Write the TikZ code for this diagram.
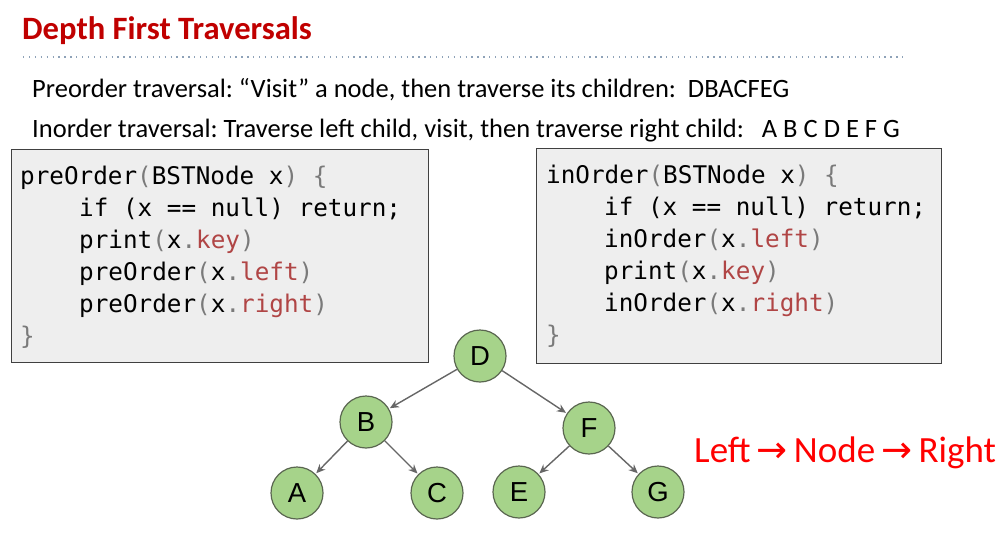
\documentclass[tikz,border=0pt]{standalone}
\usepackage{fontspec}
\setmainfont{Carlito}
\setmonofont{DejaVu Sans Mono}
\newfontfamily\symfont{DejaVu Sans}
\newfontfamily\nodefont{Liberation Sans}
\usetikzlibrary{arrows.meta}
\definecolor{titlered}{HTML}{C00000}
\definecolor{codegray}{HTML}{7A7A7A}
\definecolor{codered}{HTML}{B04545}
\definecolor{boxfill}{HTML}{EEEEEE}
\definecolor{nodegreen}{HTML}{A6D38A}
\definecolor{nodeedge}{HTML}{5A6650}
\definecolor{edgegray}{HTML}{666666}
\definecolor{dotblue}{HTML}{8EA2B8}
\newcommand{\codeg}[1]{\textcolor{codegray}{#1}}
\newcommand{\coder}[1]{\textcolor{codered}{#1}}
\frenchspacing
\tikzset{
  x=1pt,y=-1pt,
  codebox/.style={draw=black!75,fill=boxfill,line width=0.8pt},
  codeline/.style={anchor=base west,inner sep=0pt,font=\fontsize{24.3}{28}\selectfont\ttfamily},
  bodytext/.style={anchor=base west,inner sep=0pt,font=\fontsize{26.5}{30}\selectfont},
  treenode/.style={circle,draw=nodeedge,fill=nodegreen,line width=1.2pt,minimum size=52pt,inner sep=0pt,font=\fontsize{27.5}{30}\selectfont\nodefont},
  treeedge/.style={draw=edgegray,line width=1.4pt,-{Stealth[length=9pt,width=8pt]},shorten >=1pt},
}
\begin{document}
\begin{tikzpicture}
\useasboundingbox (0,0) rectangle (1000,535);
% title
\node[anchor=base west,inner sep=0pt,text=titlered,font=\fontsize{32.6}{36}\selectfont\bfseries] (title) at (22,40) {Depth First Traversals};
\draw[dotblue,line width=1.3pt,dash pattern=on 1.3pt off 4.6pt] (23,57) -- (905,57);
% body
\node[bodytext] (pre) at (32,97) {Preorder traversal: “Visit” a node, then traverse its children:\ \ DBACFEG};
\node[bodytext] (in) at (32,137) {Inorder traversal: Traverse left child, visit, then traverse right child:\ \ \ A B C D E F G};
% code boxes
\draw[codebox] (11,149) rectangle (428,362);
\draw[codebox] (536,148) rectangle (941,363);
\node[codeline] (l1) at (20,184) {preOrder\codeg{(}BSTNode x\codeg{)} \codeg{\{}};
\node[codeline] (l2) at (79,216) {if (x == null) return;};
\node[codeline] (l3) at (79,248) {print\codeg{(}x\codeg{.}\coder{key}\codeg{)}};
\node[codeline] (l4) at (79,280) {preOrder\codeg{(}x\codeg{.}\coder{left}\codeg{)}};
\node[codeline] (l5) at (79,312) {preOrder\codeg{(}x\codeg{.}\coder{right}\codeg{)}};
\node[codeline] (l6) at (20,344) {\codeg{\}}};
\node[codeline] (r1) at (546,183) {inOrder\codeg{(}BSTNode x\codeg{)} \codeg{\{}};
\node[codeline] (r2) at (604,215) {if (x == null) return;};
\node[codeline] (r3) at (604,247) {inOrder\codeg{(}x\codeg{.}\coder{left}\codeg{)}};
\node[codeline] (r4) at (604,279) {print\codeg{(}x\codeg{.}\coder{key}\codeg{)}};
\node[codeline] (r5) at (604,311) {inOrder\codeg{(}x\codeg{.}\coder{right}\codeg{)}};
\node[codeline] (r6) at (546,343) {\codeg{\}}};
% tree
\node[treenode] (D) at (480,356) {D};
\node[treenode] (B) at (366,422) {B};
\node[treenode] (F) at (589,428) {F};
\node[treenode] (A) at (297,493) {A};
\node[treenode] (C) at (437,493) {C};
\node[treenode] (E) at (519,492) {E};
\node[treenode] (G) at (658,492) {G};
\draw[treeedge] (D) -- (B);
\draw[treeedge] (D) -- (F);
\draw[treeedge] (B) -- (A);
\draw[treeedge] (B) -- (C);
\draw[treeedge] (F) -- (E);
\draw[treeedge] (F) -- (G);
% annotation
\node[anchor=base west,inner sep=0pt,text=red,font=\fontsize{37}{40}\selectfont] (note) at (694,462) {Left\,{\symfont→}\,Node\,{\symfont→}\,Right};
\end{tikzpicture}
\end{document}
